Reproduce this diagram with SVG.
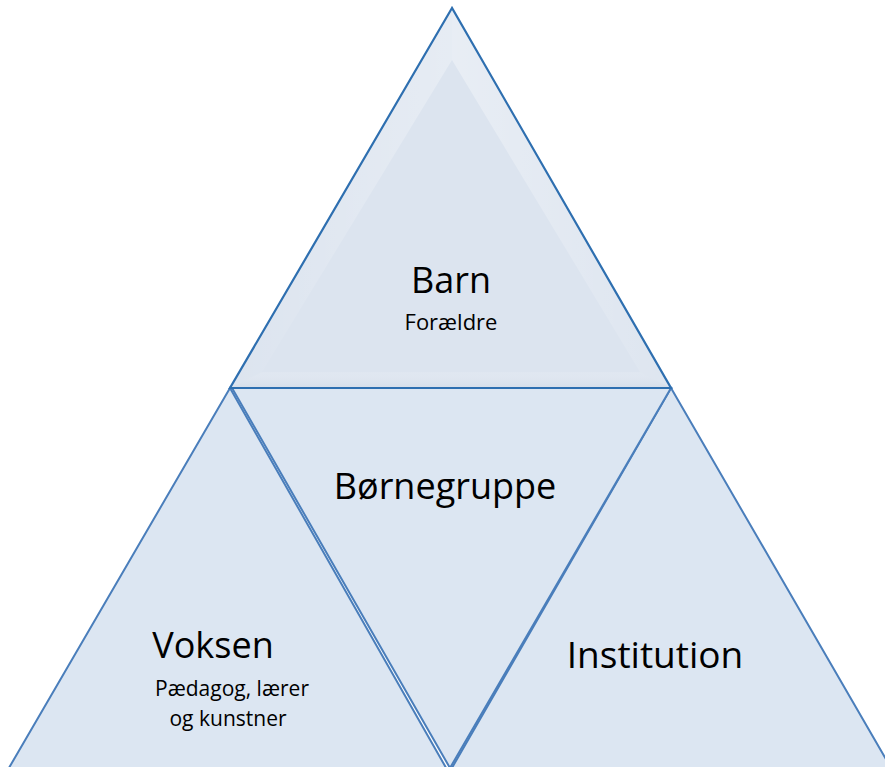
<svg xmlns="http://www.w3.org/2000/svg" width="885" height="767" viewBox="0 0 885 767">
<defs>
<style>
.tri{fill:#dce6f2;stroke:#4a7ebb;stroke-width:2;stroke-linejoin:miter}
.big{font-family:"Open Sans","Liberation Sans",sans-serif;fill:#000}
</style>
<linearGradient id="gl" x1="0" y1="0" x2="1" y2="0">
<stop offset="0" stop-color="#ffffff" stop-opacity="0"/>
<stop offset="1" stop-color="#ffffff" stop-opacity="0.3"/>
</linearGradient>
<linearGradient id="gr" x1="1" y1="0" x2="0" y2="0">
<stop offset="0" stop-color="#ffffff" stop-opacity="0.05"/>
<stop offset="1" stop-color="#ffffff" stop-opacity="0.35"/>
</linearGradient>
<linearGradient id="gb" x1="0" y1="1" x2="0" y2="0">
<stop offset="0" stop-color="#c8d2de" stop-opacity="0.35"/>
<stop offset="1" stop-color="#ffffff" stop-opacity="0.1"/>
</linearGradient>
</defs>
<rect width="885" height="767" fill="#ffffff"/>
<g id="voksen">
<polygon class="tri" points="230,388 6,773 449,773"/>
<text class="big" x="213" y="658" font-size="36" text-anchor="middle">Voksen</text>
<text class="big" x="232" y="696" font-size="21" text-anchor="middle">Pædagog, lærer</text>
<text class="big" x="228" y="726" font-size="21" text-anchor="middle">og kunstner</text>
</g>
<g id="institution">
<polygon class="tri" points="671,388 449,773 894,773"/>
<text class="big" x="655" y="668" font-size="37" text-anchor="middle">Institution</text>
</g>
<g id="bornegruppe">
<polygon class="tri" points="232,388 671,388 450,768"/>
<text class="big" x="445" y="499" font-size="36" text-anchor="middle">Børnegruppe</text>
</g>
<g id="barn">
<polygon points="452,8 230,388 671,388" fill="#dce4ef"/>
<polygon points="452,8 452,60 262,372 230,388" fill="url(#gl)"/>
<polygon points="452,8 671,388 640,372 452,60" fill="url(#gr)"/>
<polygon points="230,388 262,372 640,372 671,388" fill="url(#gb)"/>
<polygon points="452,8 230,388 671,388" fill="none" stroke="#2e6fb0" stroke-width="2.2" stroke-linejoin="miter"/>
<text class="big" x="451" y="293" font-size="36" text-anchor="middle">Barn</text>
<text class="big" x="451" y="330" font-size="22" text-anchor="middle">Forældre</text>
</g>
</svg>
